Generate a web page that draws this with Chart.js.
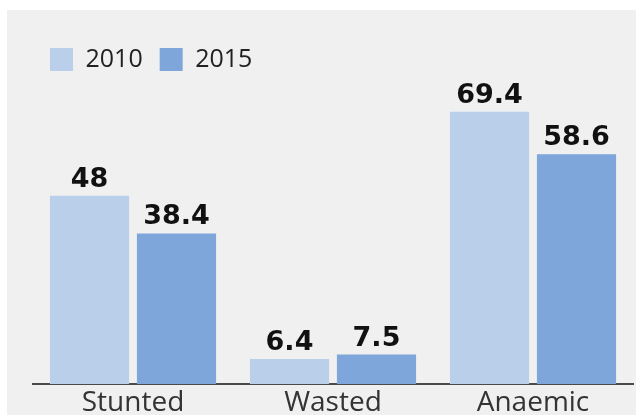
<!DOCTYPE html>
<html>
<head>
<meta charset="utf-8">
<script src="https://cdn.jsdelivr.net/npm/chart.js@4.4.1/dist/chart.umd.min.js"></script>
<style>
  html, body { margin: 0; padding: 0; background: #ffffff; }
  #wrap { width: 638px; height: 417px; position: relative; overflow: hidden; }
</style>
</head>
<body>
<div id="wrap"><canvas id="nutritionChart" width="638" height="422"></canvas></div>
<script>
const categories = ["Stunted", "Wasted", "Anaemic"];
const values2010 = [48, 6.4, 69.4];
const values2015 = [38.4, 7.5, 58.6];
const seriesLabels = ["2010", "2015"];

// grey card behind the plot
const panelBg = {
    id: "panelBg",
    beforeDraw(chart) {
        const ctx = chart.ctx;
        ctx.save();
        ctx.fillStyle = "#f0f0f0";
        ctx.fillRect(7, 10, 629, 405);
        ctx.restore();
    }
};

// value printed above each bar
const barValues = {
    id: "barValues",
    afterDatasetsDraw(chart) {
        const ctx = chart.ctx;
        ctx.save();
        ctx.font = "bold 27px 'DejaVu Sans'";
        ctx.fillStyle = "#111111";
        ctx.textAlign = "center";
        ctx.textBaseline = "alphabetic";
        chart.data.datasets.forEach((ds, i) => {
            chart.getDatasetMeta(i).data.forEach((bar, j) => {
                ctx.fillText(String(ds.data[j]), bar.x, bar.y - 9);
            });
        });
        ctx.restore();
    }
};

new Chart(document.getElementById("nutritionChart"), {
    type: "bar",
    data: {
        labels: categories,
        datasets: [{
            label: seriesLabels[0],
            data: values2010,
            backgroundColor: "#b9cfea"
        }, {
            label: seriesLabels[1],
            data: values2015,
            backgroundColor: "#7ea6da"
        }]
    },
    options: {
        responsive: false,
        animation: false,
        layout: { padding: { left: 33, right: 5, top: 30, bottom: 0 } },
        datasets: {
            bar: { categoryPercentage: 0.87, barPercentage: 0.91 }
        },
        plugins: {
            legend: {
                align: "start",
                labels: {
                    boxWidth: 23,
                    boxHeight: 23,
                    padding: 17,
                    color: "#222222",
                    font: { family: "'Open Sans'", size: 25 }
                }
            },
            tooltip: { enabled: false }
        },
        scales: {
            x: {
                grid: { display: false, drawTicks: false },
                border: { color: "#4a4a4a", width: 2 },
                ticks: {
                    color: "#333333",
                    padding: 5,
                    font: { family: "'Open Sans'", size: 28, lineHeight: 1 }
                }
            },
            y: {
                display: false,
                min: 0,
                max: 77
            }
        }
    },
    plugins: [panelBg, barValues]
});
</script>
</body>
</html>
